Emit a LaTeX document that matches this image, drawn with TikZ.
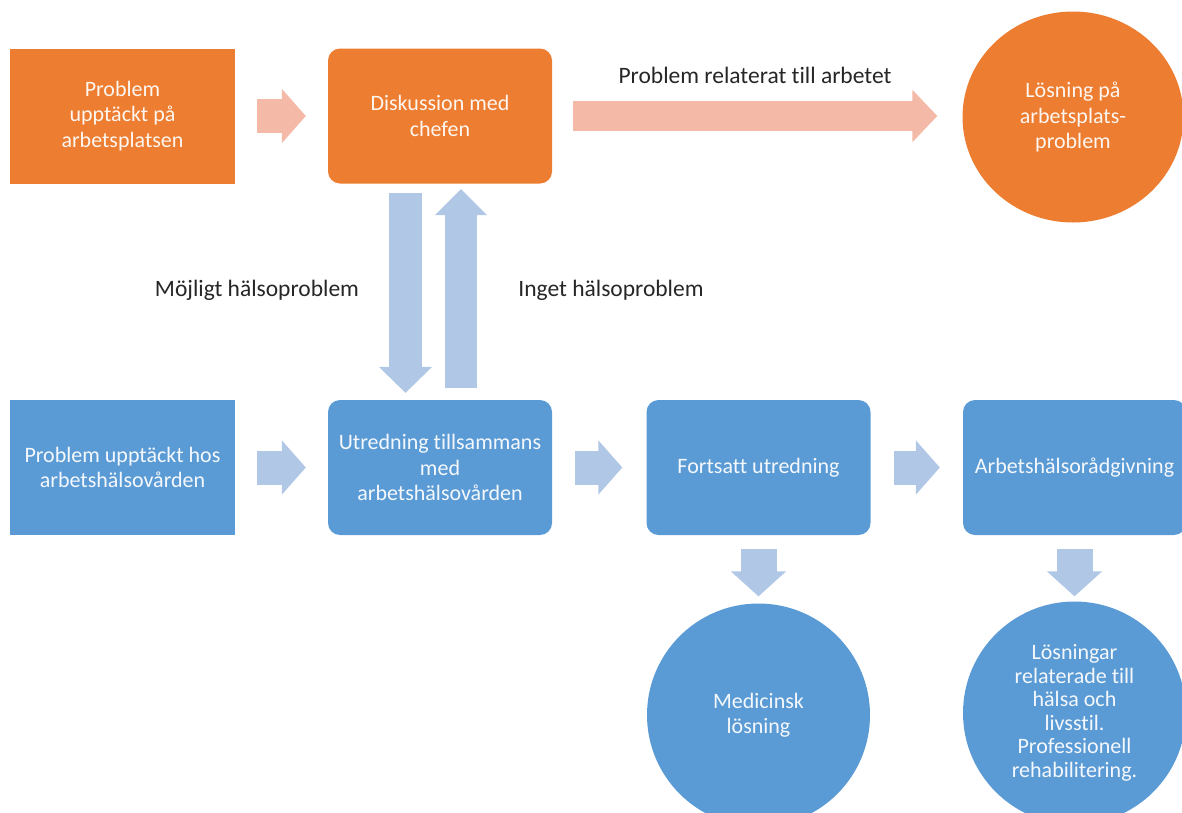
\documentclass[tikz,border=0pt]{standalone}
\usepackage{fontspec}
\setmainfont{Carlito}[Ligatures={NoCommon}]
\usetikzlibrary{shapes.geometric,arrows.meta}
\definecolor{orng}{HTML}{ED7D31}
\definecolor{blu}{HTML}{5B9BD5}
\definecolor{pinkar}{HTML}{F4B9A7}
\definecolor{bluar}{HTML}{B1C7E6}
\begin{document}
\begin{tikzpicture}[x=1pt,y=-1pt,
  txt/.style={align=center, font=\fontsize{22}{25.5}\selectfont},
  box/.style={txt, rectangle, minimum width=225pt, minimum height=135pt, inner sep=0pt},
  obox/.style={box, fill=orng, text=white!93!orng},
  bbox/.style={box, fill=blu, text=white!93!blu},
  rbox/.style={rounded corners=12pt},
  ocirc/.style={txt, ellipse, fill=orng, text=white!93!orng, inner sep=0pt, minimum width=221pt, minimum height=211pt},
  bcirc/.style={txt, circle, fill=blu, text=white!93!blu, inner sep=0pt, minimum size=223pt},
  lbl/.style={font=\fontsize{23.5}{27}\selectfont, text=black!85},
  harrow/.style={line width=34pt, -{Triangle[length=24pt,width=54pt,line width=2pt]}},
  vdarrow/.style={line width=33pt, -{Triangle[length=26pt,width=53pt,line width=2pt]}},
  parr/.style={draw=pinkar, fill=pinkar},
  barr/.style={draw=bluar, fill=bluar}
]
\useasboundingbox (0,0) rectangle (1182,812);
\clip (0,0) rectangle (1182,812);

% top row
\node[obox] (A) at (122.5,116) {Problem\\upptäckt på\\arbetsplatsen};
\node[obox, rbox, minimum width=224pt] (B) at (440,116) {Diskussion med\\chefen};
\node[ocirc] (C) at (1073,117) {Lösning på\\arbetsplats-\\problem};

% bottom row
\node[bbox] (D) at (122.5,467.5) {Problem upptäckt hos\\arbetshälsovården};
\node[bbox, rbox, minimum width=224pt] (E) at (440,467.5) {Utredning tillsammans\\med\\arbetshälsovården};
\node[bbox, rbox, minimum width=224pt] (F) at (758.5,467.5) {Fortsatt utredning};
\node[bbox, rbox, minimum width=223pt] (G) at (1074.5,467.5) {Arbetshälsorådgivning};

% solution circles
\node[bcirc] (H) at (758.5,715) {Medicinsk\\lösning};
\node[bcirc, font=\fontsize{22}{23.5}\selectfont] (I) at (1074.5,713) {Lösningar\\relaterade till\\hälsa och\\livsstil.\\Professionell\\rehabilitering.};

% labels
\node[lbl] (l1) at (755,75) {Problem relaterat till arbetet};
\node[lbl] (l2) at (257,290) {Möjligt hälsoproblem};
\node[lbl] (l3) at (611,290) {Inget hälsoproblem};

% orange-row arrows
\draw[harrow, parr, shorten <=22pt, shorten >=22pt] (A) -- (B);
\draw[parr, line width=30pt, -{Triangle[length=25pt,width=52pt,line width=2pt]}, shorten <=21pt, shorten >=25pt] (B.east) -- (B.east -| C.west);

% vertical arrows between B and E
\draw[vdarrow, barr, shorten <=9.5pt, shorten >=7pt] ([xshift=-34.5pt]B.south) -- ([xshift=-34.5pt]E.north);
\draw[barr, line width=32pt, -{Triangle[length=26pt,width=52pt,line width=2pt]}, shorten <=12pt, shorten >=5.5pt] ([xshift=21pt]E.north) -- ([xshift=21pt]B.south);

% blue-row arrows
\draw[harrow, barr, shorten <=22pt, shorten >=22pt] (D) -- (E);
\draw[harrow, barr, shorten <=23pt, shorten >=24pt] (E) -- (F);
\draw[harrow, barr, shorten <=23pt, shorten >=23pt] (F) -- (G);

% down arrows to circles
\draw[barr, line width=36pt, -{Triangle[length=25pt,width=55pt,line width=2pt]}, shorten <=14pt, shorten >=7pt] (F) -- (H);
\draw[barr, line width=36pt, -{Triangle[length=25pt,width=55pt,line width=2pt]}, shorten <=14pt, shorten >=5pt] (G) -- (I);
\end{tikzpicture}
\end{document}
